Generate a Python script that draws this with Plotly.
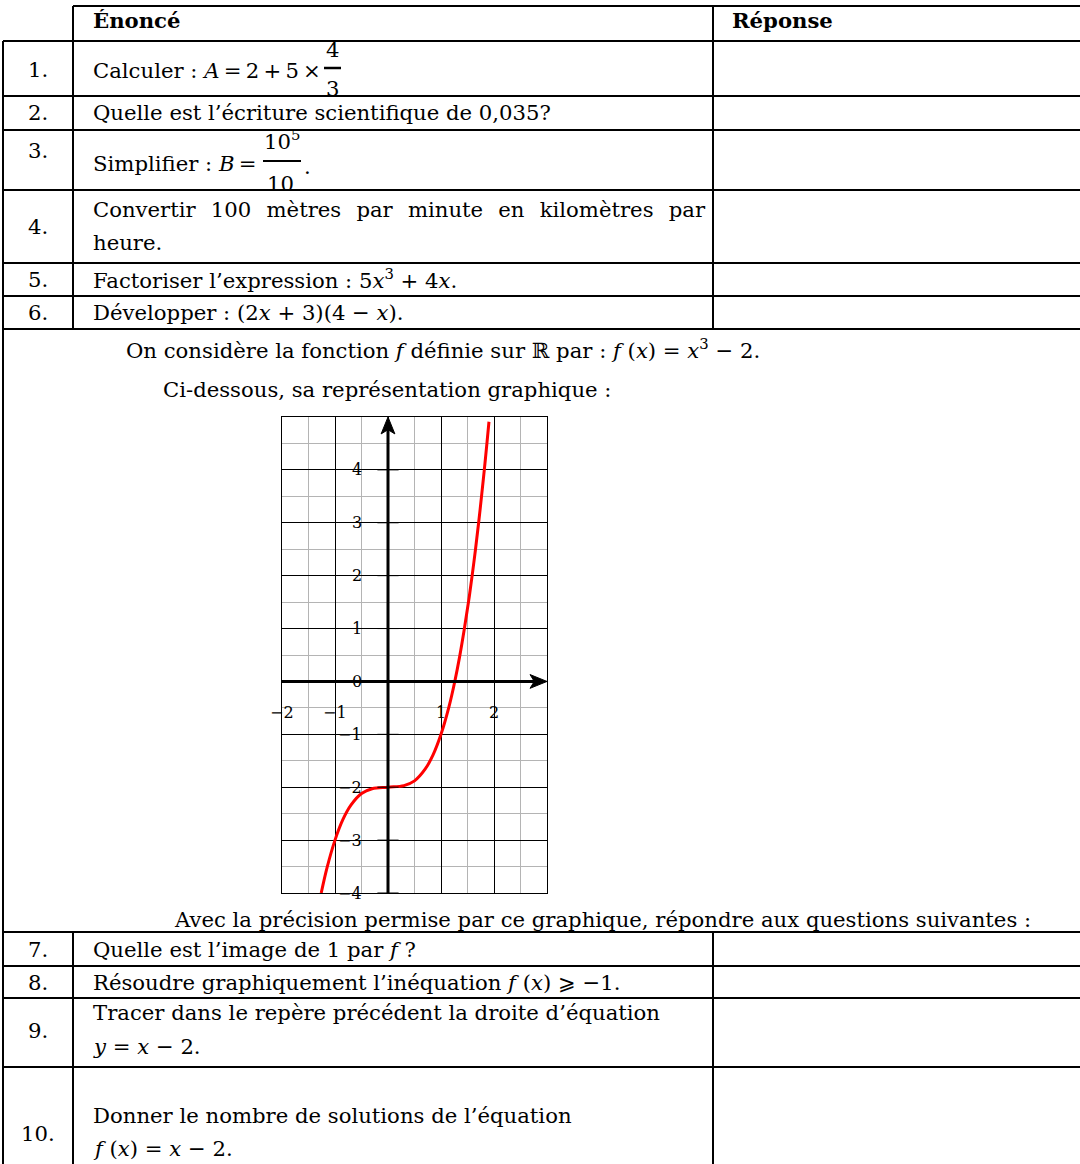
import plotly.graph_objects as go

# ---- table content ----
headers = ["Énoncé", "Réponse"]
row_numbers = ["1.", "2.", "3.", "4.", "5.", "6.", "7.", "8.", "9.", "10."]
TS = "\u2009"          # thin space used in the compact math bits
JS = " \u2009\u2009"   # widened space for the justified line
row_lines = [
    ["Calculer : <i>A</i>" + TS + "=" + TS + "2" + TS + "+" + TS + "5" + TS + "×"],
    ["Quelle est l’écriture scientifique de 0,035?"],
    ["Simplifier : <i>B</i>" + TS + "="],
    [JS.join("Convertir 100 mètres par minute en kilomètres par".split(" ")), "heure."],
    ["Factoriser l’expression : 5<i>x</i><sup>3</sup> + 4<i>x</i>."],
    ["Développer : (2<i>x</i> + 3)(4 − <i>x</i>)."],
    ["Quelle est l’image de 1 par <i>f</i> ?"],
    ["Résoudre graphiquement l’inéquation <i>f</i> (<i>x</i>) ⩾ −1."],
    ["Tracer dans le repère précédent la droite d’équation", "<i>y</i> = <i>x</i> − 2."],
    ["Donner le nombre de solutions de l’équation", "<i>f</i> (<i>x</i>) = <i>x</i> − 2."],
]
middle_lines = [
    "On considère la fonction <i>f</i> définie sur ℝ par : <i>f</i> (<i>x</i>) = <i>x</i><sup>3</sup> − 2.",
    "Ci-dessous, sa représentation graphique :",
    "Avec la précision permise par ce graphique, répondre aux questions suivantes :",
]
frac1 = ["4", "3"]
frac3 = ["10<sup>5</sup>", "10"]

# ---- curve ----
curve_x = [-1.26, -1.15, -1.0, -0.85, -0.7, -0.5, -0.3, 0.0, 0.3, 0.5, 0.7, 0.85,
           1.0, 1.15, 1.26, 1.35, 1.44, 1.52, 1.59, 1.65, 1.71, 1.77, 1.82, 1.87, 1.905]
curve_y = [-4.0, -3.52, -3.0, -2.61, -2.34, -2.12, -2.03, -2.0, -1.97, -1.88, -1.66, -1.39,
           -1.0, -0.48, 0.0, 0.46, 0.99, 1.51, 2.02, 2.49, 3.0, 3.55, 4.03, 4.54, 4.91]
x_tick_labels = ["−2", "−1", "1", "2"]
x_tick_vals = [-2, -1, 1, 2]
y_tick_labels = ["4", "3", "2", "1", "0", "−1", "−2", "−3", "−4"]
y_tick_vals = [4, 3, 2, 1, 0, -1, -2, -3, -4]

W, H = 1080, 1164
FONT = "DejaVu Serif"
FS = 21.2

fig = go.Figure()

# pixel layer for the table
fig.update_layout(
    width=W, height=H, margin=dict(l=0, r=0, t=0, b=0),
    paper_bgcolor="white", plot_bgcolor="rgba(0,0,0,0)", showlegend=False,
    xaxis=dict(range=[0, W], domain=[0, 1], visible=False, fixedrange=True),
    yaxis=dict(range=[H, 0], domain=[0, 1], visible=False, fixedrange=True),
)
fig.add_trace(go.Scatter(x=[0], y=[0], mode="markers", marker=dict(opacity=0),
                         xaxis="x", yaxis="y", hoverinfo="skip"))

shapes = []
def hline(x0, x1, y, w=2):
    shapes.append(dict(type="line", xref="x", yref="y", x0=x0, x1=x1, y0=y, y1=y,
                       line=dict(color="black", width=w)))
def vline(x, y0, y1, w=2):
    shapes.append(dict(type="line", xref="x", yref="y", x0=x, x1=x, y0=y0, y1=y1,
                       line=dict(color="black", width=w)))

# table grid
hline(73, W, 6)
for y in [41, 96, 130, 190, 263, 296, 329]:
    hline(3, W, y)
for y in [932, 966, 998, 1067]:
    hline(3, W, y)
vline(3, 41, H)
vline(73, 6, 329)
vline(713, 6, 329)
vline(73, 932, H)
vline(713, 932, H)

# fraction bars
hline(324, 341, 68, 2.5)
hline(263, 301, 161, 2)

anns = []
def txt(x, y, s, anchor="left", size=FS, bold=False):
    if bold:
        s = "<b>" + s + "</b>"
    anns.append(dict(x=x, y=y, xref="x", yref="y", text=s, showarrow=False,
                     xanchor=anchor, yanchor="middle",
                     font=dict(family=FONT, size=size, color="black")))

txt(91, 20, headers[0], bold=True)
txt(730, 20, headers[1], bold=True)

num_y = [69, 112, 150, 226, 279, 312, 949, 982, 1030, 1133]
line_y = [[70], [112], [163], [209, 242], [279], [312], [949], [982], [1012, 1046], [1115, 1148]]
for num, ny, lines, ly in zip(row_numbers, num_y, row_lines, line_y):
    txt(38, ny, num, anchor="center")
    for s, yy in zip(lines, ly):
        txt(91, yy, s)

# fraction parts
txt(332, 49, frac1[0], anchor="center")
txt(332, 88, frac1[1], anchor="center")
txt(282, 140, frac3[0], anchor="center")
txt(280, 183, frac3[1], anchor="center")
txt(302, 166, ".")

txt(124, 349, middle_lines[0])
txt(161, 389, middle_lines[1])
txt(172, 919, middle_lines[2])

# ---- graph ----
gx0, gx1, gy_top, gy_bot = 282, 547, 417, 893
fig.add_trace(go.Scatter(x=curve_x, y=curve_y, mode="lines", xaxis="x2", yaxis="y2",
                         line=dict(color="red", width=3, shape="spline"), hoverinfo="skip"))
grid_axis = dict(showticklabels=False, ticks="", showgrid=True, gridcolor="black", gridwidth=1,
                 zeroline=False, showline=True, mirror=True, linecolor="black", linewidth=1,
                 fixedrange=True,
                 minor=dict(dtick=0.5, tick0=0, showgrid=True, gridcolor="#b4b4b4", gridwidth=1))
fig.update_layout(
    xaxis2=dict(domain=[gx0 / W, gx1 / W], anchor="y2", range=[-2, 3],
                tickvals=[-2, -1, 0, 1, 2, 3], **grid_axis),
    yaxis2=dict(domain=[1 - gy_bot / H, 1 - gy_top / H], anchor="x2", range=[-4, 5],
                tickvals=list(range(-4, 6)), **grid_axis),
)

# axes with arrow heads
shapes.append(dict(type="line", xref="x2", yref="y2", x0=-2, x1=2.8, y0=0, y1=0,
                   line=dict(color="black", width=3)))
shapes.append(dict(type="line", xref="x2", yref="y2", x0=0, x1=0, y0=-4, y1=4.8,
                   line=dict(color="black", width=3)))
shapes.append(dict(type="path", xref="x2", yref="y2",
                   path="M 3 0 L 2.68 0.13 L 2.76 0 L 2.68 -0.13 Z",
                   fillcolor="black", line=dict(color="black", width=1)))
shapes.append(dict(type="path", xref="x2", yref="y2",
                   path="M 0 5 L 0.13 4.68 L 0 4.76 L -0.13 4.68 Z",
                   fillcolor="black", line=dict(color="black", width=1)))
for v in y_tick_vals:
    shapes.append(dict(type="line", xref="x2", yref="y2", x0=-0.2, x1=0.2, y0=v, y1=v,
                       line=dict(color="black", width=1)))

gfont = dict(family="DejaVu Serif", size=16, color="black")
for lab, v in zip(y_tick_labels, y_tick_vals):
    anns.append(dict(x=-0.45, y=v, xref="x2", yref="y2", text=lab, showarrow=False,
                     xanchor="right", yanchor="middle", font=gfont))
for lab, v in zip(x_tick_labels, x_tick_vals):
    anns.append(dict(x=v, y=-0.59, xref="x2", yref="y2", text=lab, showarrow=False,
                     xanchor="center", yanchor="middle", font=gfont))

fig.update_layout(shapes=shapes, annotations=anns)
fig.write_html("out.html", config={"displayModeBar": False},
               post_script="document.body.style.margin='0px';")
